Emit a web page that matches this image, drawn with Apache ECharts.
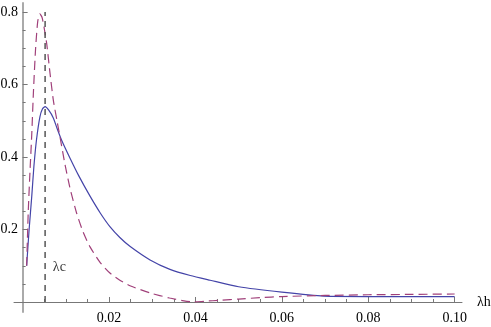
<!DOCTYPE html>
<html>
<head>
<meta charset="utf-8">
<script src="https://cdn.jsdelivr.net/npm/echarts@6/dist/echarts.min.js"></script>
<style>
html,body{margin:0;padding:0;background:#fff;}
#chart{width:491px;height:327px;}
</style>
</head>
<body>
<div id="chart"></div>
<script>
// ---- data ----
const solidX = [0.00093,0.0015,0.0021,0.0026,0.0032,0.004,0.0046,0.0052,0.006,0.0071,0.008,0.009,0.011,0.013,0.0156,0.018,0.0202,0.0225,0.0249,0.0295,0.0341,0.0388,0.0434,0.05,0.06,0.0697,0.08,0.09,0.1];
const solidY = [0.10,0.20,0.29,0.373,0.447,0.511,0.533,0.539,0.530,0.508,0.478,0.447,0.396,0.348,0.292,0.245,0.208,0.178,0.153,0.116,0.090,0.073,0.060,0.042,0.027,0.016,0.015,0.015,0.015];
const dashX = [0.00093,0.0013,0.0017,0.0021,0.0025,0.003,0.0035,0.004,0.0045,0.005,0.0056,0.0063,0.0071,0.008,0.00864,0.0098,0.011,0.0125,0.014,0.0156,0.018,0.0202,0.0225,0.025,0.0295,0.034,0.037,0.0395,0.042,0.046,0.05,0.055,0.06,0.07,0.08,0.09,0.1];
const dashY = [0.10,0.25,0.36,0.46,0.58,0.70,0.775,0.795,0.785,0.755,0.71,0.635,0.557,0.497,0.456,0.38,0.312,0.245,0.193,0.152,0.108,0.080,0.060,0.044,0.025,0.011,0.004,0.0,0.002,0.005,0.008,0.012,0.015,0.018,0.020,0.021,0.022];
const lambdaC = 0.0052;
const lambdaCLineY = [0, 0.8];
const lambdaCLabel = [0.0085, 0.097];
const xMajorTicks = [0.02,0.04,0.06,0.08,0.10];
const xMinorTicks = [0.005,0.01,0.015,0.025,0.03,0.035,0.045,0.05,0.055,0.065,0.07,0.075,0.085,0.09,0.095];
const yMajorTicks = [0.2,0.4,0.6,0.8];
const yMinorTicks = [0.05,0.1,0.15,0.25,0.3,0.35,0.45,0.5,0.55,0.65,0.7,0.75];

const zip = (xs, ys) => xs.map((x, i) => [x, ys[i]]);
const FONT = 'Liberation Serif';

const chart = echarts.init(document.getElementById('chart'), null, {renderer:'canvas'});
chart.setOption({
  animation: false,
  backgroundColor: '#fff',
  grid: {left: 14, right: 29, top: 3, bottom: 15, containLabel: false, outerBoundsMode: 'none'},
  xAxis: [{
    type: 'value', min: -0.002, max: 0.1017, position: 'bottom',
    axisLine: {show: true, onZero: true, onZeroAxisIndex: 0, lineStyle: {color: '#777', width: 1}},
    axisTick: {show: true, inside: true, length: 5, customValues: xMajorTicks, lineStyle: {color: '#777'}},
    axisLabel: {show: true, customValues: xMajorTicks, formatter: v => v.toFixed(2), margin: -1,
      fontFamily: FONT, fontSize: 14, color: '#000'},
    splitLine: {show: false},
    name: 'λh', nameLocation: 'end', nameGap: 15,
    nameTextStyle: {fontFamily: FONT, fontSize: 14, color: '#000', verticalAlign: 'middle'}
  }, {
    type: 'value', min: -0.002, max: 0.1017, position: 'bottom',
    axisLine: {show: false, onZero: true, onZeroAxisIndex: 0},
    axisTick: {show: true, inside: true, length: 3, customValues: xMinorTicks, lineStyle: {color: '#777'}},
    axisLabel: {show: false},
    splitLine: {show: false}
  }],
  yAxis: [{
    type: 'value', min: -0.0276, max: 0.825, position: 'left',
    axisLine: {show: true, onZero: true, onZeroAxisIndex: 0, lineStyle: {color: '#aaa', width: 2}},
    axisTick: {show: true, inside: true, length: 5, customValues: yMajorTicks, lineStyle: {color: '#777'}},
    axisLabel: {show: true, customValues: yMajorTicks, formatter: v => v.toFixed(1), margin: -4,
      fontFamily: FONT, fontSize: 14, color: '#000'},
    splitLine: {show: false}
  }, {
    type: 'value', min: -0.0276, max: 0.825, position: 'left',
    axisLine: {show: false, onZero: true, onZeroAxisIndex: 0},
    axisTick: {show: true, inside: true, length: 3, customValues: yMinorTicks, lineStyle: {color: '#777'}},
    axisLabel: {show: false},
    splitLine: {show: false}
  }],
  series: [{
    type: 'line', xAxisIndex: 0, yAxisIndex: 0,
    data: zip(solidX, solidY), showSymbol: false, smooth: 0.2,
    lineStyle: {color: '#4444a8', width: 1.2}
  }, {
    type: 'line', xAxisIndex: 0, yAxisIndex: 0,
    data: zip(dashX, dashY), showSymbol: false, smooth: 0.2,
    lineStyle: {color: '#a0407a', width: 1.2, type: [9, 5]}
  }, {
    type: 'line', xAxisIndex: 0, yAxisIndex: 0,
    data: lambdaCLineY.map(y => [lambdaC, y]), showSymbol: false,
    lineStyle: {color: '#555', width: 1.5, type: [6, 5]}
  }, {
    type: 'scatter', xAxisIndex: 0, yAxisIndex: 0,
    data: [lambdaCLabel], symbolSize: 0,
    label: {show: true, position: 'inside', formatter: 'λc', fontFamily: FONT, fontSize: 14, color: '#000'}
  }]
});
</script>
</body>
</html>
